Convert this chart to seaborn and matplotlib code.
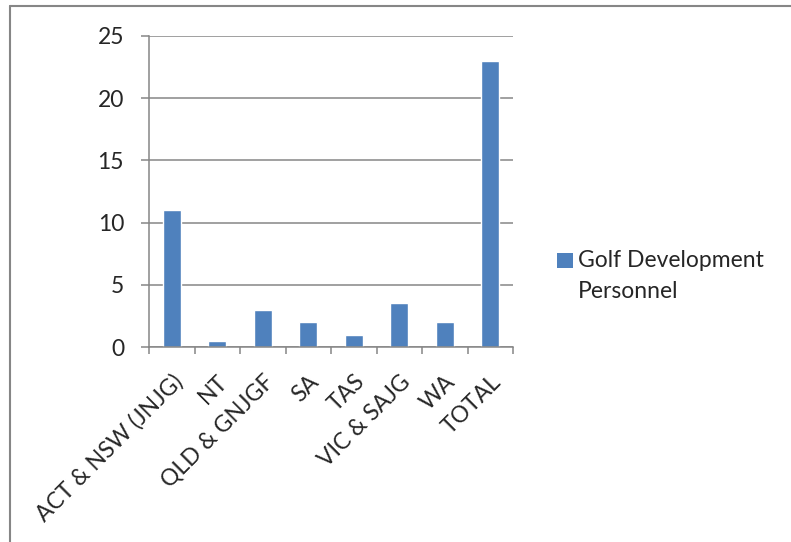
import matplotlib
matplotlib.use("Agg")
import matplotlib.pyplot as plt
import matplotlib.transforms as mtransforms
from matplotlib.lines import Line2D
from matplotlib.patches import Rectangle
import seaborn as sns
import numpy as np

categories = ["ACT & NSW (JNJG)", "NT", "QLD & GNJGF", "SA", "TAS", "VIC & SAJG", "WA", "TOTAL"]
values = [11, 0.5, 3, 2, 1, 3.5, 2, 23]
series_name = "Golf Development\nPersonnel"
yticks = [0, 5, 10, 15, 20, 25]

BAR = "#4F81BD"
GRID = "#868686"
FS = 16.5

sns.set_style("white")
plt.rcParams["font.family"] = ["Lato", "DejaVu Sans"]

W, H = 791, 542
fig = plt.figure(figsize=(W / 100, H / 100), dpi=100)
ax = fig.add_axes([149 / W, 1 - 347 / H, (513 - 149) / W, (347 - 36) / H])

sns.barplot(x=categories, y=values, color=BAR, width=0.4, ax=ax, saturation=1)

ax.set_xlim(-0.5, len(categories) - 0.5)
ax.set_ylim(0, 25)
ax.set_yticks(yticks)
ax.yaxis.grid(True, color=GRID, linewidth=1.1)
ax.set_axisbelow(True)
for s in ["top", "right"]:
    ax.spines[s].set_visible(False)
for s in ["left", "bottom"]:
    ax.spines[s].set_color(GRID)
    ax.spines[s].set_linewidth(1.1)
ax.set_xlabel("")
ax.set_ylabel("")

ax.tick_params(axis="y", length=6, width=1.1, color=GRID, pad=12, labelsize=FS, left=True)
ax.tick_params(axis="x", which="major", length=0, labelsize=FS, pad=0)
ax.set_xticks(np.arange(-0.5, len(categories), 1.0), minor=True)
ax.tick_params(axis="x", which="minor", length=5, width=1.1, color=GRID, bottom=True)

ax.set_xticks(range(len(categories)))
ax.set_xticklabels(categories, rotation=45, ha="right", va="top", rotation_mode="anchor")
offset = mtransforms.ScaledTranslation(0 / 100, -24 / 100, fig.dpi_scale_trans)
for lab in ax.get_xticklabels():
    lab.set_transform(lab.get_transform() + offset)

# legend (manual)
fig.add_artist(Rectangle((557 / W, 1 - 268 / H), 16 / W, 15 / H, transform=fig.transFigure,
                         facecolor=BAR, edgecolor="none"))
for i, line in enumerate(series_name.split("\n")):
    fig.text(578 / W, 1 - (267 + 31 * i) / H, line, fontsize=FS, va="baseline", ha="left",
             transform=fig.transFigure)

# outer chart frame
x0 = 10 / W
yt = 1 - 6 / H
fig.add_artist(Line2D([x0, x0], [0, yt], transform=fig.transFigure, color=GRID, linewidth=1.5))
fig.add_artist(Line2D([x0, 1], [yt, yt], transform=fig.transFigure, color=GRID, linewidth=1.5))

fig.savefig("out.png", dpi=100, facecolor="white")
